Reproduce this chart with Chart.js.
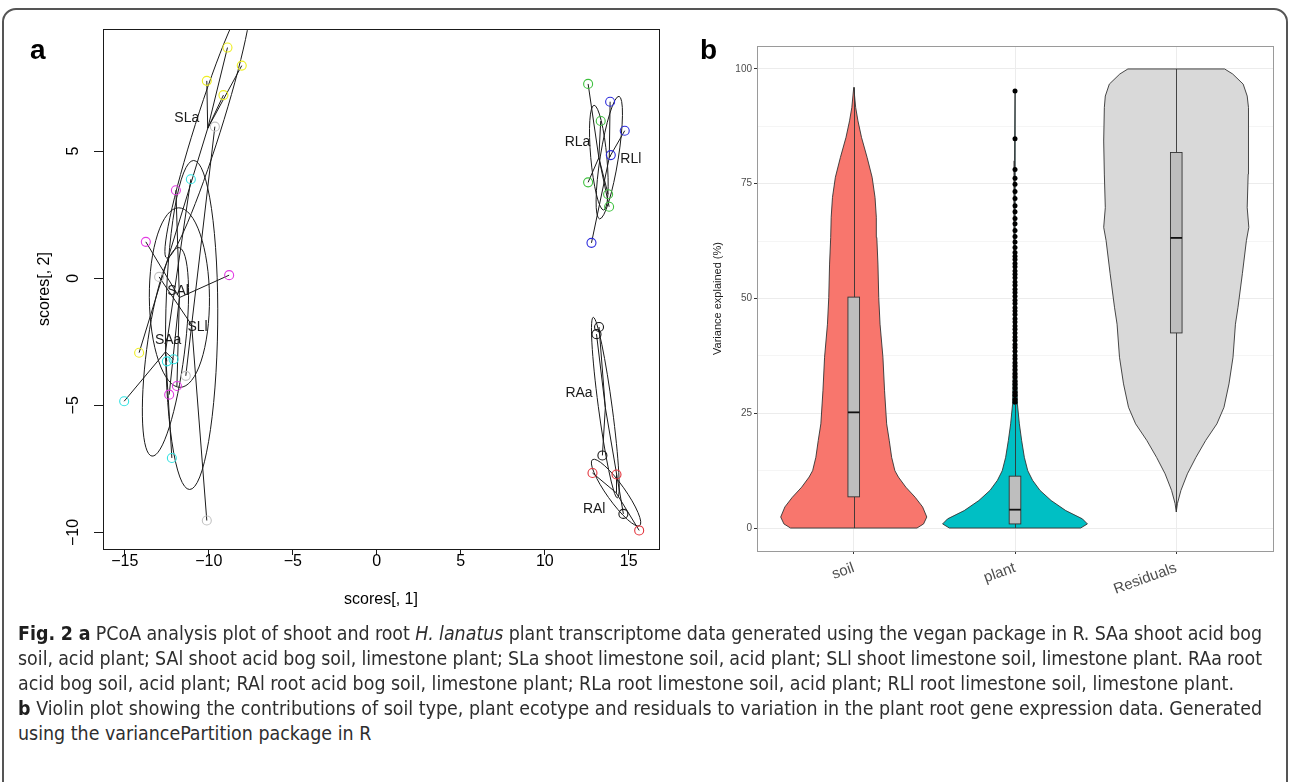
<!DOCTYPE html>
<html>
<head>
<meta charset="utf-8">
<title>Fig. 2</title>
<script src="https://cdn.jsdelivr.net/npm/chart.js@4.4.1/dist/chart.umd.min.js"></script>
<style>
  html, body { margin: 0; padding: 0; background: #fff; }
  body { width: 1290px; height: 782px; position: relative; overflow: hidden;
         font-family: "Liberation Sans", Arial, sans-serif; }
  #frame { position: absolute; left: 2px; top: 8px; width: 1282px; height: 820px;
           border: 2px solid #555; border-radius: 14px; }
  .panel { position: absolute; }
  #wrapA { left: 0; top: 0; width: 690px; height: 640px; }
  #wrapB { left: 690px; top: 0; width: 600px; height: 620px; }
  .tag { position: absolute; font-weight: bold; font-size: 28px; line-height: 28px; color: #000; }
  .cl { position: absolute; left: 18px; white-space: nowrap; transform-origin: 0 50%;
        font-family: "Liberation Sans Narrow", "DejaVu Sans Condensed", "Liberation Sans", sans-serif;
        font-size: 19px; line-height: 24px; color: #2e2e2e; }
  .cl b { color: #1e1e1e; }
</style>
</head>
<body>
<div id="frame"></div>
<div class="panel" id="wrapA"><canvas id="chartA" width="690" height="640"></canvas></div>
<div class="panel" id="wrapB"><canvas id="chartB" width="600" height="620"></canvas></div>
<div class="tag" style="left:30px; top:36px;">a</div>
<div class="tag" style="left:700px; top:36px;">b</div>

<div class="cl" style="top:621px;" data-just="1"><b>Fig. 2 a</b> PCoA analysis plot of shoot and root <i>H. lanatus</i> plant transcriptome data generated using the vegan package in R. SAa shoot acid bog</div>
<div class="cl" style="top:646px;" data-just="1">soil, acid plant; SAl shoot acid bog soil, limestone plant; SLa shoot limestone soil, acid plant; SLl shoot limestone soil, limestone plant. RAa root</div>
<div class="cl" style="top:671px;">acid bog soil, acid plant; RAl root acid bog soil, limestone plant; RLa root limestone soil, acid plant; RLl root limestone soil, limestone plant.</div>
<div class="cl" style="top:696px;" data-just="1"><b>b</b> Violin plot showing the contributions of soil type, plant ecotype and residuals to variation in the plant root gene expression data. Generated</div>
<div class="cl" style="top:721px;">using the variancePartition package in R</div>

<script>
// ---- panel a: PCoA scores per group ----
const groupNames = ['SLa', 'SLl', 'SAl', 'SAa', 'RLa', 'RLl', 'RAa', 'RAl'];
const slaX = [-8.89, -8.04, -10.12, -9.13, -14.15];
const slaY = [9.07, 8.36, 7.76, 7.2, -2.93];
const sllX = [-9.64, -12.96, -11.37, -10.12];
const sllY = [5.96, 0.05, -3.84, -9.53];
const salX = [-11.96, -13.75, -8.79, -11.9, -12.36];
const salY = [3.46, 1.43, 0.12, -4.24, -4.58];
const saaX = [-11.07, -12.5, -12.1, -15.04, -12.2];
const saaY = [3.89, -3.27, -3.19, -4.84, -7.07];
const rlaX = [12.58, 13.33, 12.58, 13.77, 13.83];
const rlaY = [7.64, 6.18, 3.77, 3.3, 2.81];
const rllX = [13.89, 14.76, 13.93, 12.78];
const rllY = [6.94, 5.8, 4.84, 1.39];
const raaX = [13.23, 13.08, 13.43, 14.68];
const raaY = [-1.92, -2.2, -6.97, -9.27];
const ralX = [12.84, 14.27, 15.62];
const ralY = [-7.66, -7.72, -9.92];

// ellipse half axes (conjugate vectors, score units), same order as groupNames
const ellMajX = [2.44, 0.12, -0.04, 0.80, -0.28, 0.58, -0.71, 1.40];
const ellMajY = [5.10, 6.47, 3.53, 4.10, 2.06, 2.41, 3.55, -1.30];
const ellMinX = [0.74, 1.55, 1.79, 1.12, 0.48, 0.53, 0.42, 0.45];
const ellMinY = [-0.15, 0, 0, -0.09, 0, -0.06, -0.05, 0.19];

// where the group names sit
const labelX = [-11.31, -10.67, -11.83, -12.42, 11.95, 15.12, 12.04, 12.94];
const labelY = [6.29, -1.93, -0.49, -2.45, 5.35, 4.69, -4.53, -9.07];

const xTicksA = [-15, -10, -5, 0, 5, 10, 15];
const yTicksA = [-10, -5, 0, 5];

// ---- panel b: variancePartition violins ----
const violinCats = ['soil', 'plant', 'Residuals'];
const soilLevels = [0, 0.9, 2.4, 4.6, 6.7, 8.9, 11.1, 12.5, 15.4, 19.1, 22.7, 29.9, 37.2, 44.4, 50.2, 57.5, 63.3, 67.7, 72, 76.4, 80.7, 85.1, 88.7, 91.6, 96];
const soilHalf = [0.392, 0.433, 0.453, 0.427, 0.381, 0.323, 0.277, 0.255, 0.235, 0.22, 0.204, 0.191, 0.181, 0.163, 0.155, 0.15, 0.143, 0.14, 0.132, 0.114, 0.083, 0.048, 0.026, 0.012, 0];
const plantLevels = [0, 0.9, 2, 3.8, 6, 8.2, 10.4, 12.5, 15.4, 19.1, 22.7, 27, 40, 60, 80, 95];
const plantHalf = [0.407, 0.449, 0.418, 0.315, 0.224, 0.155, 0.109, 0.079, 0.058, 0.041, 0.027, 0.015, 0.008, 0.005, 0.003, 0];
const residLevels = [3.5, 5.3, 8.2, 11.8, 15.4, 19.1, 22.7, 26.3, 31.4, 37.2, 44.4, 48.1, 55.4, 62.6, 65.5, 69.8, 77.1, 84.3, 91.6, 94.1, 96.7, 98.9, 100];
const residHalf = [0, 0.007, 0.029, 0.069, 0.122, 0.183, 0.252, 0.296, 0.327, 0.352, 0.367, 0.383, 0.41, 0.435, 0.45, 0.44, 0.446, 0.45, 0.446, 0.44, 0.415, 0.35, 0.3];

const boxQ1 = [6.8, 0.9, 42.5];
const boxMed = [25.2, 4.0, 63.2];
const boxQ3 = [50.3, 11.3, 81.8];
const whiskLo = [0, 0, 3.5];
const whiskHi = [96, 27, 100];
const plantOutliers = [95.2, 84.8, 78.1, 76.2, 74.9, 73.3, 71.8, 70.2, 68.9, 67.4, 66.3, 64.8, 63.5,
  62.3, 61.1, 60.0, 59.2, 58.5, 57.6, 56.9, 56.0, 55.3, 54.5, 53.6, 52.9, 52.0, 51.3, 50.5, 49.6,
  48.9, 48.0, 47.3, 46.5, 45.6, 44.9, 44.0, 43.3, 42.5, 41.6, 40.9, 40.0, 39.3, 38.5, 37.6, 36.9,
  36.0, 35.3, 34.5, 33.6, 32.9, 32.0, 31.3, 30.5, 29.6, 28.9, 28.0, 27.4];
const yTicksB = [0, 25, 50, 75, 100];

const groupColors = ['#eeee22', '#c2c2c2', '#e23ce2', '#34e2e2', '#3fc13f', '#2c2cdc', '#1a1a1a', '#e3343c'];
const violinColors = ['#F8766D', '#00BFC4', '#D9D9D9'];
const minus = v => String(v).replace('-', '\u2212');

const groups = [
  [slaX, slaY], [sllX, sllY], [salX, salY], [saaX, saaY],
  [rlaX, rlaY], [rllX, rllY], [raaX, raaY], [ralX, ralY]
];
const centroids = groups.map(g => ({
  x: g[0].reduce((a, b) => a + b, 0) / g[0].length,
  y: g[1].reduce((a, b) => a + b, 0) / g[1].length
}));

Chart.defaults.font.family = '"Liberation Sans", Arial, sans-serif';
Chart.defaults.animation = false;

// spider lines: centroid -> each point, broken with null gaps
const spiderSets = groups.map((g, i) => {
  const data = [];
  g[0].forEach((x, k) => {
    data.push({x: centroids[i].x, y: centroids[i].y});
    data.push({x: x, y: g[1][k]});
    data.push({x: x, y: null});
  });
  return {data: data, borderColor: '#1a1a1a', borderWidth: 1, pointRadius: 0,
          spanGaps: false, fill: false, order: 2};
});
const pointSets = groups.map((g, i) => ({
  data: g[0].map((x, k) => ({x: x, y: g[1][k]})),
  showLine: false, pointRadius: 4.5, pointBorderWidth: 1.1,
  pointBackgroundColor: 'rgba(0,0,0,0)', pointBorderColor: groupColors[i], order: 1
}));

const panelAPlugin = {
  id: 'panelA',
  beforeDatasetsDraw(chart) {
    const {ctx, chartArea: ca, scales: {x, y}} = chart;
    ctx.save();
    ctx.beginPath();
    ctx.rect(ca.left, ca.top, ca.right - ca.left, ca.bottom - ca.top);
    ctx.clip();
    ctx.strokeStyle = '#1a1a1a';
    ctx.lineWidth = 1;
    centroids.forEach((c, i) => {
      const cx = x.getPixelForValue(c.x), cy = y.getPixelForValue(c.y);
      const ax = x.getPixelForValue(c.x + ellMajX[i]) - cx;
      const ay = y.getPixelForValue(c.y + ellMajY[i]) - cy;
      const bx = x.getPixelForValue(c.x + ellMinX[i]) - cx;
      const by = y.getPixelForValue(c.y + ellMinY[i]) - cy;
      ctx.save();
      ctx.transform(ax, ay, bx, by, cx, cy);
      ctx.beginPath();
      ctx.arc(0, 0, 1, 0, Math.PI * 2);
      ctx.restore();
      ctx.stroke();
    });
    ctx.restore();
  },
  afterDraw(chart) {
    const {ctx, chartArea: ca, scales: {x, y}} = chart;
    ctx.save();
    // box
    ctx.strokeStyle = '#1a1a1a';
    ctx.lineWidth = 1;
    ctx.strokeRect(ca.left + 0.5, ca.top + 0.5, ca.right - ca.left, ca.bottom - ca.top);
    // group names
    ctx.fillStyle = '#1a1a1a';
    ctx.font = '14px "Liberation Sans", Arial, sans-serif';
    ctx.textAlign = 'center';
    ctx.textBaseline = 'middle';
    groupNames.forEach((n, i) => {
      ctx.fillText(n, x.getPixelForValue(labelX[i]), y.getPixelForValue(labelY[i]));
    });
    // y tick labels, parallel to the axis like R
    ctx.font = '16px "Liberation Sans", Arial, sans-serif';
    ctx.fillStyle = '#000';
    yTicksA.forEach(v => {
      ctx.save();
      ctx.translate(74, y.getPixelForValue(v));
      ctx.rotate(-Math.PI / 2);
      ctx.fillText(minus(v), 0, 0);
      ctx.restore();
    });
    ctx.restore();
  }
};

new Chart(document.getElementById('chartA'), {
  type: 'line',
  data: {datasets: spiderSets.concat(pointSets)},
  options: {
    responsive: false,
    events: [],
    layout: {padding: {top: 29, right: 31, left: 0, bottom: 0}},
    plugins: {legend: {display: false}, tooltip: {enabled: false}},
    scales: {
      x: {
        type: 'linear', min: -16.3, max: 16.8,
        afterBuildTicks: s => { s.ticks = xTicksA.map(v => ({value: v})); },
        afterFit: s => { s.height = 91; },
        grid: {drawOnChartArea: false, drawTicks: true, tickLength: 6, color: '#1a1a1a'},
        border: {display: false},
        ticks: {font: {size: 16}, color: '#000', padding: -3, maxRotation: 0, callback: v => minus(v)},
        title: {display: true, text: 'scores[, 1]', font: {size: 16}, color: '#000', padding: {top: 0, bottom: 31}}
      },
      y: {
        type: 'linear', min: -10.65, max: 9.8,
        afterBuildTicks: s => { s.ticks = yTicksA.map(v => ({value: v})); },
        afterFit: s => { s.width = 103; },
        grid: {drawOnChartArea: false, drawTicks: true, tickLength: 9, color: '#1a1a1a'},
        border: {display: false},
        ticks: {display: false},
        title: {display: true, text: 'scores[, 2]', font: {size: 16}, color: '#000', padding: {top: 35, bottom: 0}}
      }
    }
  },
  plugins: [panelAPlugin]
});

// ---- panel b ----
function violinOutline(c, levels, half) {
  const pts = [];
  for (let i = levels.length - 1; i >= 0; i--) pts.push({x: c - half[i], y: levels[i]});
  for (let i = 0; i < levels.length; i++) pts.push({x: c + half[i], y: levels[i]});
  pts.push(pts[0]);
  return pts;
}
const violinSets = [
  [soilLevels, soilHalf], [plantLevels, plantHalf], [residLevels, residHalf]
].map((v, i) => ({
  data: violinOutline(i + 1, v[0], v[1]),
  borderColor: '#333', borderWidth: 0.9, backgroundColor: violinColors[i],
  fill: 'shape', pointRadius: 0, tension: 0, order: 2
}));
const outlierSet = {
  data: plantOutliers.map(v => ({x: 2, y: v})),
  showLine: false, pointRadius: 2.5, pointBorderWidth: 0,
  pointBackgroundColor: '#000', order: 1
};

const panelBPlugin = {
  id: 'panelB',
  afterDatasetsDraw(chart) {
    const {ctx, scales: {x, y}} = chart;
    ctx.save();
    violinCats.forEach((c, i) => {
      const cx = Math.round(x.getPixelForValue(i + 1)) + 0.5;
      ctx.strokeStyle = '#333';
      ctx.lineWidth = 0.9;
      ctx.beginPath();
      ctx.moveTo(cx, y.getPixelForValue(whiskLo[i]));
      ctx.lineTo(cx, y.getPixelForValue(boxQ1[i]));
      ctx.moveTo(cx, y.getPixelForValue(boxQ3[i]));
      ctx.lineTo(cx, y.getPixelForValue(whiskHi[i]));
      ctx.stroke();
      const x0 = x.getPixelForValue(i + 1 - 0.036), x1 = x.getPixelForValue(i + 1 + 0.036);
      const yq1 = y.getPixelForValue(boxQ1[i]), yq3 = y.getPixelForValue(boxQ3[i]);
      ctx.fillStyle = '#BEBEBE';
      ctx.fillRect(x0, yq3, x1 - x0, yq1 - yq3);
      ctx.strokeRect(x0, yq3, x1 - x0, yq1 - yq3);
      ctx.strokeStyle = '#111';
      ctx.lineWidth = 1.8;
      ctx.beginPath();
      ctx.moveTo(x0, y.getPixelForValue(boxMed[i]));
      ctx.lineTo(x1, y.getPixelForValue(boxMed[i]));
      ctx.stroke();
    });
    ctx.restore();
  },
  afterDraw(chart) {
    const {ctx, chartArea: ca} = chart;
    ctx.save();
    ctx.strokeStyle = '#9a9a9a';
    ctx.lineWidth = 1;
    ctx.strokeRect(ca.left + 0.5, ca.top + 0.5, ca.right - ca.left, ca.bottom - ca.top);
    ctx.restore();
  }
};

new Chart(document.getElementById('chartB'), {
  type: 'line',
  data: {datasets: violinSets.concat([outlierSet])},
  options: {
    responsive: false,
    events: [],
    layout: {padding: {top: 46, right: 17, left: 0, bottom: 0}},
    plugins: {legend: {display: false}, tooltip: {enabled: false}},
    scales: {
      x: {
        type: 'linear', min: 0.4, max: 3.6,
        afterBuildTicks: s => { s.ticks = violinCats.map((c, i) => ({value: i + 1})); },
        afterFit: s => { s.height = 69; },
        grid: {color: '#ececec', tickLength: 3, tickColor: '#333'},
        border: {display: false},
        ticks: {font: {size: 15}, color: '#4d4d4d', padding: 5, minRotation: 20, maxRotation: 20,
                callback: v => violinCats[v - 1]}
      },
      y: {
        type: 'linear', min: -5, max: 105,
        afterBuildTicks: s => {
          const t = [];
          for (let i = 0; i < yTicksB.length; i++) {
            t.push({value: yTicksB[i]});
            if (i < yTicksB.length - 1) t.push({value: (yTicksB[i] + yTicksB[i + 1]) / 2});
          }
          s.ticks = t;
        },
        afterFit: s => { s.width = 67; },
        grid: {
          color: c => (yTicksB.indexOf(c.tick.value) >= 0 ? '#ececec' : '#f5f5f5'),
          tickColor: c => (yTicksB.indexOf(c.tick.value) >= 0 ? '#333' : 'rgba(0,0,0,0)'),
          tickLength: 3
        },
        border: {display: false},
        ticks: {font: {size: 10}, color: '#4d4d4d', padding: 2,
                callback: v => (yTicksB.indexOf(v) >= 0 ? String(v) : '')},
        title: {display: true, text: 'Variance explained (%)', font: {size: 11}, color: '#1a1a1a',
                padding: {top: 21, bottom: 0}}
      }
    }
  },
  plugins: [panelBPlugin]
});

// ---- caption: condensed, justified lines ----
function fitCaption() {
  const lines = Array.from(document.querySelectorAll('.cl'));
  lines.forEach(l => { l.style.transform = ''; l.style.wordSpacing = ''; });
  const w = lines.map(l => l.getBoundingClientRect().width);
  const s = 1216 / w[2];
  lines.forEach((l, i) => {
    if (l.dataset.just) {
      const spaces = (l.textContent.match(/ /g) || []).length;
      l.style.wordSpacing = ((1244 / s - w[i]) / spaces) + 'px';
    }
    l.style.transform = 'scaleX(' + s + ')';
  });
}
fitCaption();
if (document.fonts) document.fonts.ready.then(fitCaption);
</script>
</body>
</html>
